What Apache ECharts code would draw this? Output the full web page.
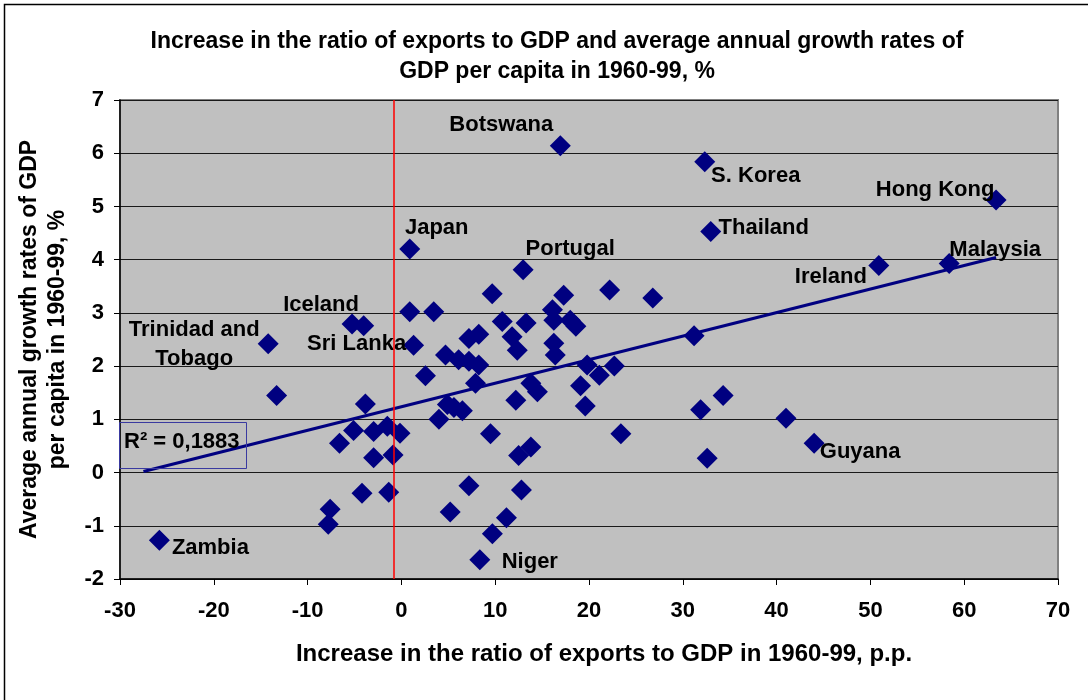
<!DOCTYPE html>
<html><head><meta charset="utf-8">
<script src="https://cdn.jsdelivr.net/npm/echarts@6/dist/echarts.min.js"></script>
<style>html,body{margin:0;padding:0;background:#fff}#c{width:1088px;height:700px}</style>
</head><body><div id="c"></div>
<script>
// Increase in exports/GDP ratio (p.p.) and GDP per capita growth (%)
const exportChange = [
  -25.8, -14.2, -13.3, -5.26, -4.02, -3.84, -5.1, -6.6, -2.96, -1.5,
  -0.15, -2.96, -0.89, -4.2, -1.35, -7.6, -7.8, 1.3, 0.89, 0.89,
  3.45, 2.56, 4.7, 6.1, 7.2, 8.25, 7.9, 7.2, 8.25, 9.68,
  10.75, 12.98, 13.3, 11.8, 12.35, 16.1, 17.3, 22.2, 26.8, 16.25,
  18.0, 18.6, 16.25, 16.4, 19.8, 21.1, 22.7, 19.1, 19.6, 13.8,
  14.5, 12.2, 4.9, 5.6, 6.5, 4.0, 9.5, 12.5, 13.8, 23.4,
  31.2, 31.9, 34.3, 32.6, 41.0, 44.0, 7.2, 12.8, 5.2, 11.2,
  9.7, 8.36, 16.94, 32.34, 32.98, 63.4, 58.4, 50.9
];
const gdpGrowth = [
  -1.27, 2.42, 1.45, 2.79, 2.76, 1.29, 0.79, 0.55, 0.77, 0.87,
  0.74, 0.28, 0.33, -0.39, -0.37, -0.69, -0.97, 2.39, 4.20, 3.02,
  3.02, 1.82, 2.21, 2.12, 2.09, 2.02, 1.68, 2.52, 2.60, 3.36,
  2.84, 3.81, 2.81, 2.55, 2.30, 3.06, 3.33, 3.43, 3.28, 2.86,
  2.86, 2.75, 2.43, 2.21, 2.02, 1.83, 2.00, 1.63, 1.25, 1.68,
  1.52, 1.36, 1.28, 1.22, 1.16, 1.00, 0.73, 0.32, 0.48, 0.73,
  2.57, 1.18, 1.45, 0.27, 1.02, 0.55, -0.25, -0.33, -0.74, -0.85,
  -1.15, -1.64, 6.14, 5.84, 4.53, 5.12, 3.93, 3.89
];
const pointNames = [
  'Zambia', 'Trinidad and Tobago', '', 'Iceland', '', '', '', '', '', '',
  '', '', '', '', '', '', '', 'Sri Lanka', 'Japan', '',
  '', '', '', '', '', '', '', '', '', '',
  '', 'Portugal', '', '', '', '', '', '', '', '',
  '', '', '', '', '', '', '', '', '', '',
  '', '', '', '', '', '', '', '', '', '',
  '', '', '', '', '', 'Guyana', '', '', '', '',
  '', 'Niger', 'Botswana', 'S. Korea', 'Thailand', 'Hong Kong', 'Malaysia', 'Ireland'
];
// Linear trend line end points
const trendX = [-27.5, 63.4];
const trendY = [0.02, 4.04];
const zeroLineX = -0.82;
const xTicks = { min: -30, max: 70, step: 10 };
const yTicks = { min: -2, max: 7, step: 1 };
const rSquaredText = 'R² = 0,1883';

const FONT = '"Liberation Sans", Arial, sans-serif';
const S = 21;
// label offsets (text centre relative to point centre, px)
const placements = {
  'Botswana': [-59, -21], 'S. Korea': [51, 14], 'Thailand': [53, -4],
  'Hong Kong': [-61, -10], 'Malaysia': [46, -13], 'Ireland': [-48, 11],
  'Japan': [27, -21], 'Portugal': [47, -21], 'Iceland': [-31, -19],
  'Trinidad and Tobago': [-74, 1], 'Sri Lanka': [-57, -1], 'Zambia': [51, 8],
  'Niger': [50, 2], 'Guyana': [46, 9]
};

const scatterData = exportChange.map((x, i) => {
  const name = pointNames[i];
  const item = { value: [x, gdpGrowth[i]], name: name };
  const p = placements[name];
  if (p) {
    item.label = {
      show: true,
      position: [S / 2 + p[0], S / 2 + p[1]],
      align: 'center', verticalAlign: 'middle',
      formatter: name === 'Trinidad and Tobago' ? 'Trinidad and\nTobago' : name,
      lineHeight: 29
    };
  }
  return item;
});

const chart = echarts.init(document.getElementById('c'));
chart.setOption({
  backgroundColor: '#fff',
  animation: false,
  title: {
    text: 'Increase in the ratio of exports to GDP and average annual growth rates of\nGDP per capita in 1960-99, %',
    left: 552, textAlign: 'center', top: 22,
    textStyle: { fontFamily: FONT, fontWeight: 'bold', fontSize: 23, color: '#000', lineHeight: 30 }
  },
  graphic: [
    { type: 'rect', left: 2, top: 2, shape: { x: 0, y: 0, width: 1100, height: 720 },
      style: { fill: null, stroke: '#000', lineWidth: 1.5 }, silent: true },
    { type: 'rect', left: 117, top: 420, z: 10, shape: { x: 0, y: 0, width: 127, height: 46 },
      style: { fill: null, stroke: '#3a3aa0', lineWidth: 1 } },
    { type: 'text', left: 124, top: 431, z: 11,
      style: { text: rSquaredText, fontFamily: FONT, fontWeight: 'bold', fontSize: 22, fill: '#000' } }
  ],
  grid: {
    left: 120, top: 100, right: 30, bottom: 121,
    show: true, backgroundColor: '#c0c0c0', borderColor: '#808080', borderWidth: 2
  },
  xAxis: {
    type: 'value', min: xTicks.min, max: xTicks.max, interval: xTicks.step,
    name: 'Increase in the ratio of exports to GDP in 1960-99, p.p.',
    nameLocation: 'middle', nameGap: 63,
    nameTextStyle: { fontFamily: FONT, fontWeight: 'bold', fontSize: 24, color: '#000', padding: [0, 0, 0, 30] },
    axisLine: { show: true, onZero: false, lineStyle: { color: '#000', width: 1.5 } },
    axisTick: { show: true, inside: false, length: 6, lineStyle: { color: '#000' } },
    axisLabel: { fontFamily: FONT, fontWeight: 'bold', fontSize: 22, color: '#000', margin: 21 },
    splitLine: { show: false }
  },
  yAxis: {
    type: 'value', min: yTicks.min, max: yTicks.max, interval: yTicks.step,
    name: 'Average annual growth rates of GDP\nper capita in 1960-99, %',
    nameLocation: 'middle', nameGap: 48, nameRotate: 90,
    nameTextStyle: { fontFamily: FONT, fontWeight: 'bold', fontSize: 23, color: '#000', lineHeight: 28 },
    axisLine: { show: true, onZero: false, lineStyle: { color: '#000', width: 1.5 } },
    axisTick: { show: true, inside: false, length: 6, lineStyle: { color: '#000' } },
    axisLabel: { fontFamily: FONT, fontWeight: 'bold', fontSize: 22, color: '#000', margin: 16 },
    splitLine: { show: true, lineStyle: { color: '#1a1a1a', width: 1 } }
  },
  series: [
    {
      type: 'scatter', symbol: 'diamond', symbolSize: S,
      itemStyle: { color: '#000080', opacity: 1 },
      label: { show: false, fontFamily: FONT, fontWeight: 'bold', fontSize: 22, color: '#000' },
      data: scatterData,
      markLine: {
        silent: true, symbol: ['none', 'none'], label: { show: false },
        lineStyle: { color: '#ff0000', width: 1.5, type: 'solid' },
        data: [{ xAxis: zeroLineX }]
      },
      z: 3
    },
    {
      type: 'line', symbol: 'none', z: 4,
      lineStyle: { color: '#000080', width: 3 },
      data: trendX.map((x, i) => [x, trendY[i]])
    }
  ]
});
</script>
</body></html>
